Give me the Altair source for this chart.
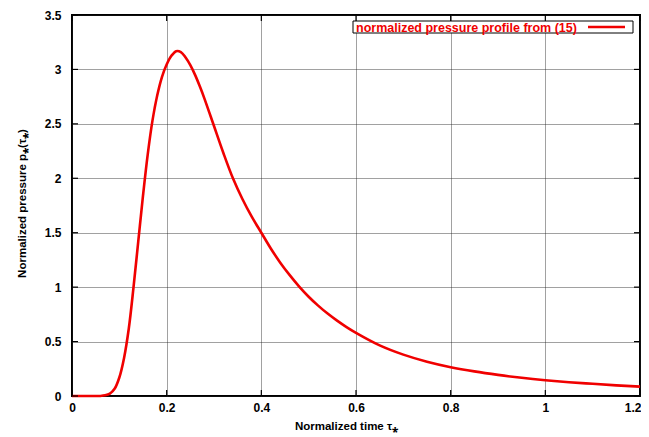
import altair as alt
import pandas as pd

# Curve
tau = [0.0, 0.05, 0.06, 0.07, 0.08, 0.09, 0.10, 0.11, 0.12, 0.13, 0.14,
       0.15, 0.16, 0.17, 0.18, 0.19, 0.20, 0.21, 0.22, 0.23, 0.24, 0.25, 0.26,
       0.27, 0.28, 0.29, 0.30, 0.32, 0.34, 0.36, 0.38, 0.40, 0.42, 0.44, 0.46,
       0.48, 0.50, 0.52, 0.54, 0.56, 0.58, 0.60, 0.65, 0.70, 0.75, 0.80, 0.85,
       0.90, 0.95, 1.00, 1.05, 1.10, 1.15, 1.20]
pressure = [0.0, 0.0, 0.0005, 0.006, 0.022, 0.066, 0.17, 0.35, 0.62, 1.0,
            1.42, 1.84, 2.22, 2.53, 2.76, 2.93, 3.045, 3.125, 3.168, 3.16,
            3.11, 3.04, 2.95, 2.845, 2.73, 2.605, 2.48, 2.23, 2.00, 1.81,
            1.645, 1.50, 1.355, 1.225, 1.11, 1.005, 0.912, 0.83, 0.757, 0.692,
            0.633, 0.58, 0.465, 0.38, 0.315, 0.265, 0.226, 0.194, 0.167, 0.145,
            0.127, 0.112, 0.098, 0.086]

x_ticks = [0, 0.2, 0.4, 0.6, 0.8, 1, 1.2]
y_ticks = [0, 0.5, 1, 1.5, 2, 2.5, 3, 3.5]

legend_label = "normalized pressure profile from (15)"
x_title = "Normalized time τ⁎"
y_title = "Normalized pressure p⁎(τ⁎)"

W, H = 568, 381
FONT = "Liberation Sans, Arial, sans-serif"
RED = "#f00000"

df = pd.DataFrame({"tau": tau, "p": pressure})
xt = pd.DataFrame({"v": x_ticks})
yt = pd.DataFrame({"v": y_ticks})
one = pd.DataFrame({"a": [0]})

xscale = alt.Scale(domain=[0, 1.2], nice=False, zero=False)
yscale = alt.Scale(domain=[0, 3.5], nice=False)

line = alt.Chart(df).mark_line(color=RED, strokeWidth=2.6, interpolate="catmull-rom").encode(
    x=alt.X("tau:Q", scale=xscale,
            axis=alt.Axis(values=x_ticks, format="~g", title=x_title,
                          titleX=274, titleY=30, titleBaseline="middle",
                          titleAlign="center", labelPadding=6,
                          labelAlign={"expr": "datum.value >= 1.2 ? 'right' : 'center'"},
                          labelOffset={"expr": "datum.value >= 1.2 ? 1 : 0"})),
    y=alt.Y("p:Q", scale=yscale,
            axis=alt.Axis(values=y_ticks, format="~g", title=y_title,
                          titleX=-50, titleY=188, titleBaseline="middle",
                          titleAlign="center", labelPadding=11)),
)

tick_bottom = alt.Chart(xt).mark_rule(color="black", strokeWidth=1.2).encode(
    x=alt.X("v:Q", scale=xscale), y=alt.value(H), y2=alt.value(H - 6))
tick_top = alt.Chart(xt).mark_rule(color="black", strokeWidth=1.2).encode(
    x=alt.X("v:Q", scale=xscale), y=alt.value(0), y2=alt.value(6))
tick_left = alt.Chart(yt).mark_rule(color="black", strokeWidth=1.2).encode(
    y=alt.Y("v:Q", scale=yscale), x=alt.value(0), x2=alt.value(6))
tick_right = alt.Chart(yt).mark_rule(color="black", strokeWidth=1.2).encode(
    y=alt.Y("v:Q", scale=yscale), x=alt.value(W), x2=alt.value(W - 6))

leg_box = alt.Chart(one).mark_rect(fill="white", stroke="black", strokeWidth=1).encode(
    x=alt.value(281), x2=alt.value(561), y=alt.value(6), y2=alt.value(18))
leg_text = alt.Chart(one).mark_text(align="left", baseline="middle", font=FONT,
                                    fontWeight="bold", fontSize=12.5, color=RED).encode(
    x=alt.value(284), y=alt.value(12.5), text=alt.value(legend_label))
leg_line = alt.Chart(one).mark_rule(color=RED, strokeWidth=2.6).encode(
    x=alt.value(516), x2=alt.value(553), y=alt.value(12))

chart = alt.layer(
    line, tick_bottom, tick_top, tick_left, tick_right, leg_box, leg_text, leg_line
).properties(
    width=W, height=H,
    autosize=alt.AutoSizeParams(type="none"),
    padding={"left": 64, "top": 7, "right": 1, "bottom": 40},
).configure_view(
    stroke="black", strokeWidth=2
).configure_axis(
    domain=False, ticks=False, grid=True, gridColor="#222", gridDash=[1, 1],
    gridWidth=1, gridOpacity=0.85,
    labelFont=FONT, labelFontWeight="bold", labelFontSize=12, labelColor="black",
    titleFont=FONT, titleFontWeight="bold", titleFontSize=11.5, titleColor="black",
    labelOverlap=False, labelBound=False, labelFlush=False,
)

chart.save("out.html", embed_options={"renderer": "svg", "actions": False})
